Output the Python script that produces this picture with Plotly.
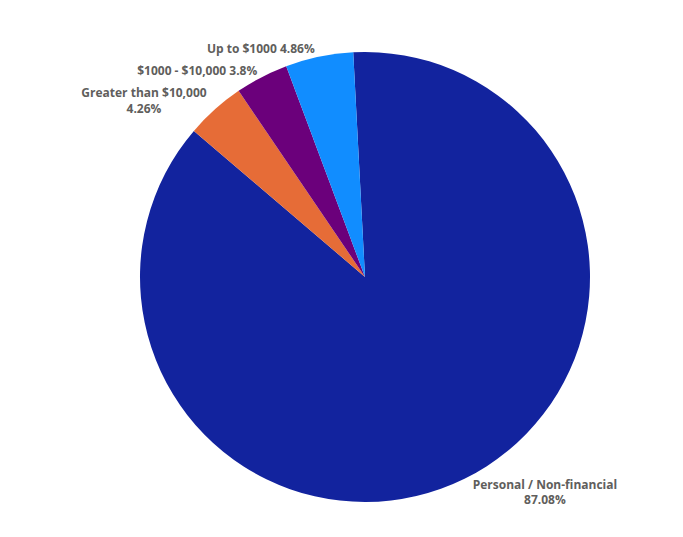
import plotly.graph_objects as go

labels = ["Personal / Non-financial", "Greater than $10,000", "$1000 - $10,000", "Up to $1000"]
values = [87.08, 4.26, 3.8, 4.86]
texts = ["Personal / Non-financial<br>87.08%", "Greater than $10,000<br>4.26%", "$1000 - $10,000 3.8%", "Up to $1000 4.86%"]
colors = ["#12239E", "#E66C37", "#6B007B", "#118DFF"]

fig = go.Figure(go.Pie(
    labels=labels, values=values, text=texts, textinfo="text",
    textposition="outside", sort=False, direction="clockwise", rotation=-3,
    marker=dict(colors=colors, line=dict(color="white", width=0)),
    textfont=dict(family="Open Sans", size=12, color="#605E5C", weight="bold"),
    domain=dict(x=[132/683, 582/683], y=[43/537, 493/537]),
    showlegend=False,
))
fig.update_layout(width=683, height=537, margin=dict(l=0, r=0, t=0, b=0),
                  paper_bgcolor="white", plot_bgcolor="white")
fig.write_html("out.html")
